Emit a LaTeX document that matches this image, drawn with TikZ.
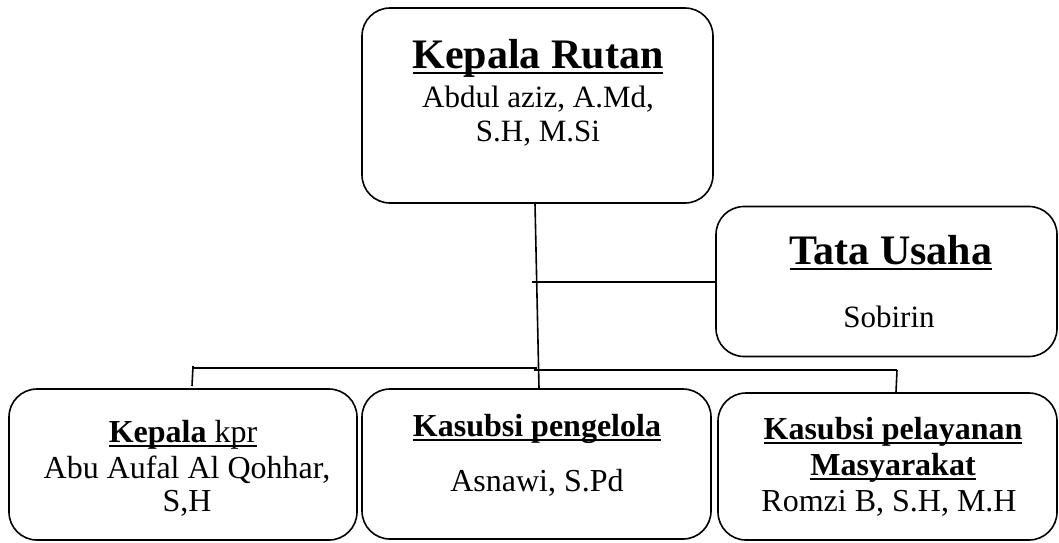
\documentclass[tikz,border=0pt]{standalone}
\usepackage{fontspec}
\setmainfont{Liberation Serif}
\usetikzlibrary{positioning}
\newcommand{\wordul}[1]{\leavevmode\setbox0\hbox{#1}\rlap{\rule[-0.15em]{\wd0}{0.065em}}\box0}
\tikzstyle{unit} = [rectangle, rounded corners=28pt, draw=black, line width=1.6pt]
\tikzstyle{bigtitle} = [anchor=base, align=center, font=\fontsize{42}{46}\selectfont\bfseries]
\tikzstyle{bigname} = [anchor=base, align=center, font=\fontsize{31}{34}\selectfont]
\tikzstyle{subtitle} = [anchor=base, align=center, font=\fontsize{32}{33}\selectfont]
\tikzstyle{link} = [line width=1.6pt]

\begin{document}
\begin{tikzpicture}[x=1pt, y=-1pt]
	\useasboundingbox (0,0) rectangle (1059,542);
	% boxes
	\node (rutan) [unit, minimum width=351pt, minimum height=195pt] at (537.5,105.5) {};
	\node (tu) [unit, minimum width=341pt, minimum height=150pt] at (886.5,281.5) {};
	\node (kpr) [unit, minimum width=348pt, minimum height=151pt] at (183,464.5) {};
	\node (kelola) [unit, minimum width=349pt, minimum height=150pt] at (536.5,464) {};
	\node (layan) [unit, minimum width=339pt, minimum height=147pt] at (887.5,466.5) {};
	% texts (base = last line)
	\node (rutanhead) [bigtitle] at (538,68) {\wordul{Kepala Rutan}};
	\node (rutanname) [bigname] at (538,141) {Abdul aziz, A.Md,\\S.H, M.Si};
	\node (tuhead) [bigtitle] at (891,264) {\wordul{Tata Usaha}};
	\node (tuname) [bigname] at (889,327) {Sobirin};
	\node (kprhead) [subtitle] at (183,442) {\wordul{\textbf{Kepala} kpr}};
	\node (kprname) [subtitle] at (187,511) {Abu Aufal Al Qohhar,\\S,H};
	\node (kelolahead) [subtitle] at (537,436) {\wordul{\textbf{Kasubsi pengelola}}};
	\node (kelolaname) [subtitle] at (537,491) {Asnawi, S.Pd};
	\node (layanhead) [subtitle, font=\fontsize{32}{36}\selectfont] at (893,475) {\wordul{\textbf{Kasubsi pelayanan}}\\\wordul{\textbf{Masyarakat}}};
	\node (layanname) [subtitle] at (889,511) {Romzi B, S.H, M.H};
	% connectors
	\coordinate (tujoin) at (532,282);
	\coordinate (busleft) at (193,368);
	\coordinate (busmid) at (537,368);
	\coordinate (busmid2) at (534,370);
	\coordinate (busright) at (897,370);
	\draw [link] (rutan.south -| 535,0) -- (kelola.north -| 539,0);
	\draw [link] (tujoin) -- (tu.west |- tujoin);
	\draw [link] (busleft) -- (busmid);
	\draw [link] (busmid2) -- (busright);
	\draw [link] ([yshift=2pt]busleft) -- (192,386);
	\draw [link] (busright) -- (layan.north -| 896,0);
\end{tikzpicture}
\end{document}
